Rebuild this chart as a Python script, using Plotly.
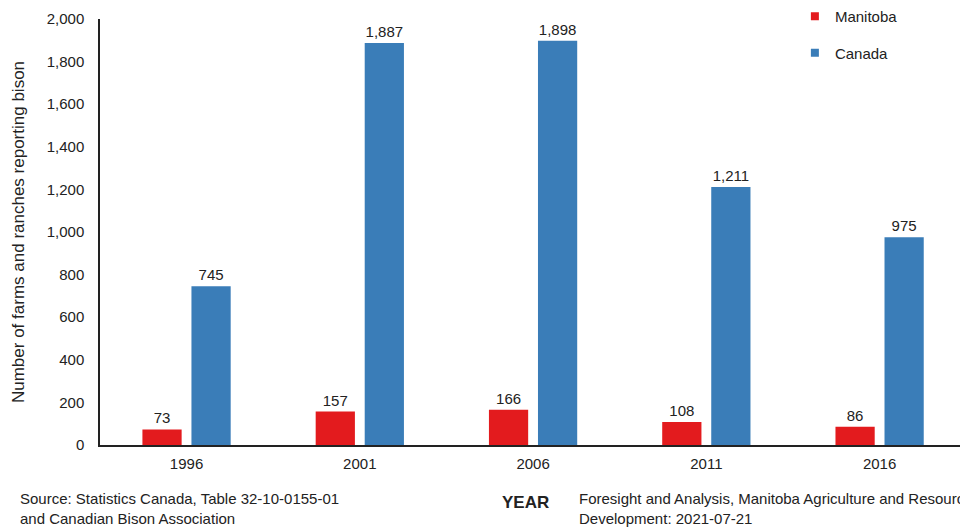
import plotly.graph_objects as go

years = ["1996", "2001", "2006", "2011", "2016"]
manitoba = [73, 157, 166, 108, 86]
canada = [745, 1887, 1898, 1211, 975]
y_ticks = [0, 200, 400, 600, 800, 1000, 1200, 1400, 1600, 1800, 2000]

FONT = "Liberation Sans, Arial, sans-serif"
RED = "#E31B1E"
BLUE = "#3A7DB8"
pos = list(range(len(years)))

fig = go.Figure()
fig.add_trace(go.Bar(
    x=pos, y=manitoba, name="Manitoba", showlegend=False,
    marker=dict(color=RED, line=dict(width=0)),
    text=[f"{v:,}" for v in manitoba], textposition="outside",
    textfont=dict(size=15, color="#222222"), cliponaxis=False,
))
fig.add_trace(go.Bar(
    x=pos, y=canada, name="Canada", showlegend=False,
    marker=dict(color=BLUE, line=dict(width=0)),
    text=[f"{v:,}" for v in canada], textposition="outside",
    textfont=dict(size=15, color="#222222"), cliponaxis=False,
))

# small square legend keys
for name, color, grp in [("Manitoba", RED, "mb"), ("Canada", BLUE, "ca")]:
    fig.add_trace(go.Scatter(
        x=[None], y=[None], mode="markers", name=name, legendgroup=grp,
        marker=dict(symbol="square", size=8, color=color),
        showlegend=True,
    ))

fig.update_layout(
    width=960, height=531,
    margin=dict(l=100, r=0, t=17, b=86),
    paper_bgcolor="white", plot_bgcolor="white",
    barmode="group", bargap=0.434, bargroupgap=0.2,
    font=dict(family=FONT, size=15, color="#222222"),
    showlegend=True,
    legend=dict(
        x=0.808, y=1.045, xanchor="left", yanchor="top",
        bgcolor="rgba(0,0,0,0)", font=dict(size=15),
        tracegroupgap=14, itemsizing="trace", itemwidth=30,
    ),
    xaxis=dict(
        range=[-0.4995, 4.464], tickvals=pos, ticktext=years,
        showline=True, linecolor="#222222", linewidth=1.5,
        showgrid=False, zeroline=False, ticks="",
        tickfont=dict(size=15), ticklabelstandoff=4,
    ),
    yaxis=dict(
        range=[0, 2000], tickvals=y_ticks, tickformat=",",
        showline=True, linecolor="#222222", linewidth=1.5,
        showgrid=False, zeroline=False, ticks="",
        tickfont=dict(size=15), ticklabelstandoff=11,
        title=dict(text="Number of farms and ranches reporting bison",
                   font=dict(size=17), standoff=18),
    ),
    annotations=[
        dict(text="Source: Statistics Canada, Table 32-10-0155-01",
             xref="paper", yref="paper", x=-0.0953, y=-0.1262, xanchor="left", yanchor="middle",
             align="left", showarrow=False, font=dict(size=15)),
        dict(text="and Canadian Bison Association",
             xref="paper", yref="paper", x=-0.0953, y=-0.1729, xanchor="left", yanchor="middle",
             align="left", showarrow=False, font=dict(size=15)),
        dict(text="<b>YEAR</b>",
             xref="paper", yref="paper", x=0.465, y=-0.1355, xanchor="left", yanchor="middle",
             showarrow=False, font=dict(size=17)),
        dict(text="Foresight and Analysis, Manitoba Agriculture and Resource",
             xref="paper", yref="paper", x=0.5547, y=-0.1262, xanchor="left", yanchor="middle",
             align="left", showarrow=False, font=dict(size=15)),
        dict(text="Development: 2021-07-21",
             xref="paper", yref="paper", x=0.5547, y=-0.1729, xanchor="left", yanchor="middle",
             align="left", showarrow=False, font=dict(size=15)),
    ],
)

fig.write_html("out.html")
